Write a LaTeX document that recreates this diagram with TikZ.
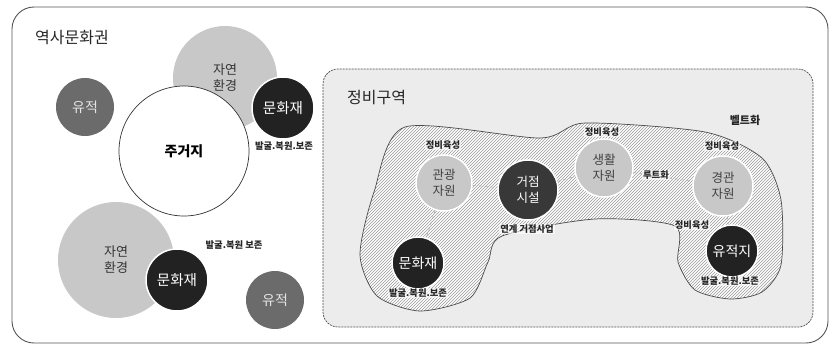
\documentclass[tikz,border=0pt]{standalone}
\usepackage{fontspec}
\setmainfont{Noto Sans CJK KR}
\usetikzlibrary{patterns}
\definecolor{darkc}{HTML}{222222}
\definecolor{midc}{HTML}{6B6B6B}
\definecolor{lightc}{HTML}{C8C8C8}
\definecolor{panelc}{HTML}{ECECEC}
\definecolor{linec}{HTML}{555555}
\tikzset{
  cbase/.style={circle, inner sep=0pt, align=center, font=\fontsize{13}{16}\selectfont},
  darkcircle/.style={cbase, fill=darkc, text=white, draw=white, line width=1.5pt},
  midcircle/.style={cbase, fill=midc, text=black!10},
  lightcircle/.style={cbase, fill=lightc, text=black!80},
  softcircle/.style={cbase, fill=lightc, text=black!75, draw=white, line width=1.5pt},
  smalltxt/.style={font=\fontsize{9.3}{11}\selectfont\bfseries, text=black!85, inner sep=1pt},
  halotxt/.style={smalltxt, fill=white, fill opacity=0.6, text opacity=1},
  titletxt/.style={font=\fontsize{16}{19}\selectfont, text=black!85, anchor=west, inner sep=0pt},
  link/.style={draw=black!35, dashed, line width=0.5pt}
}
\begin{document}
\begin{tikzpicture}[x=1pt,y=-1pt]
\useasboundingbox (0,0) rectangle (829,354);
% outer frame
\draw[linec, line width=0.9pt, rounded corners=22pt] (12,7) rectangle (828,343);
\node[titletxt] (t1) at (35,38) {역사문화권};
% left panel circles
\node[lightcircle, minimum size=104pt] (nat1) at (225,78) {자연\\환경};
\node[midcircle, minimum size=58pt, font=\fontsize{14}{16}\selectfont] (ruin1) at (85,107) {유적};
\node[circle, draw=black!80, fill=white, line width=0.7pt, minimum size=130pt, inner sep=0pt, font=\fontsize{14}{16}\selectfont\bfseries] (home) at (184,151) {주거지};
\node[darkcircle, minimum size=62pt, font=\fontsize{14.5}{16}\selectfont] (cul1) at (283,108) {문화재};
\node[smalltxt] (lab1) at (284,146) {발굴.복원.보존};
\node[lightcircle, minimum size=116pt] (nat2) at (116,260) {자연\\환경};
\node[darkcircle, minimum size=62pt, font=\fontsize{14.5}{16}\selectfont] (cul2) at (177,280) {문화재};
\node[smalltxt] (lab2) at (234,245) {발굴.복원 보존};
\node[midcircle, minimum size=58pt, font=\fontsize{14}{16}\selectfont] (ruin2) at (275,300) {유적};
% right panel
\fill[panelc, rounded corners=15pt] (323,69) rectangle (813,327);
\draw[black!70, line width=0.7pt, dash pattern=on 2pt off 1pt, rounded corners=15pt] (323,69) rectangle (813,327);
\node[titletxt] (t2) at (347,98) {정비구역};
\node[font=\fontsize{11}{13}\selectfont\bfseries, text=black!85] (belt) at (745,120) {벨트화};
% hatched blob
\def\blobpts{(405,127) (540,138) (585,123) (705,132) (762,158) (781,200) (781,265) (762,292) (730,299)
 (695,290) (678,262) (675,226) (595,219) (502,236) (488,262) (470,298) (420,311) (377,296)
 (360,255) (374,192)}
\path[fill=white] plot[smooth cycle, tension=0.45] coordinates {\blobpts};
\path[pattern=north east lines, pattern color=black!40] plot[smooth cycle, tension=0.45] coordinates {\blobpts};
\draw[black!70, line width=0.7pt] plot[smooth cycle, tension=0.45] coordinates {\blobpts};
% nodes inside blob
\node[softcircle, minimum size=56pt, font=\fontsize{12.5}{16}\selectfont] (tour) at (444,183) {관광\\자원};
\node[darkcircle, fill=black!78, minimum size=60pt, font=\fontsize{12.5}{16}\selectfont] (hub) at (528,190) {거점\\시설};
\node[softcircle, minimum size=58pt, font=\fontsize{12.5}{16}\selectfont] (life) at (604,168) {생활\\자원};
\node[softcircle, minimum size=60pt, font=\fontsize{12.5}{16}\selectfont] (land) at (723,186) {경관\\자원};
\node[darkcircle, minimum size=52pt, font=\fontsize{14}{16}\selectfont] (site) at (732,251) {유적지};
\node[darkcircle, minimum size=52pt, font=\fontsize{14}{16}\selectfont] (cul3) at (418,263) {문화재};
% connectors
\draw[link] (tour) -- (hub);
\draw[link] (hub) -- (life);
\draw[link] (life) -- (land);
\draw[link] (tour) -- (cul3);
\draw[link] (land) -- (site);
% labels
\node[halotxt] (l1) at (443,145) {정비육성};
\node[halotxt] (l2) at (602,132) {정비육성};
\node[halotxt] (l3) at (722,146) {정비육성};
\node[halotxt] (l4) at (692,225) {정비육성};
\node[halotxt] (l5) at (656,175) {루트화};
\node[halotxt] (l6) at (527,229) {연계 거점사업};
\node[halotxt] (l7) at (418,293) {발굴.복원.보존};
\node[halotxt] (l8) at (730,281) {발굴.복원.보존};
\end{tikzpicture}
\end{document}
